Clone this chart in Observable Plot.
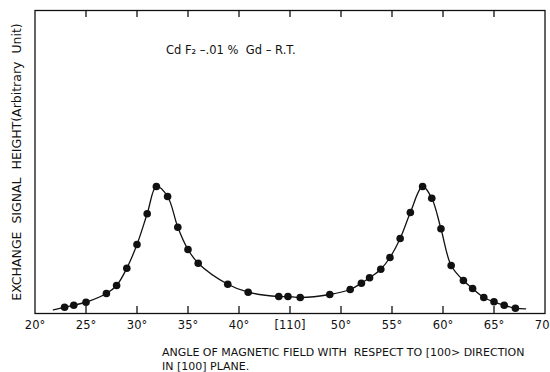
<!DOCTYPE html>
<html>
<head>
<meta charset="utf-8">
<script src="https://cdn.jsdelivr.net/npm/d3@7"></script>
<script src="https://cdn.jsdelivr.net/npm/@observablehq/plot@0.6"></script>
<style>
  html, body { margin: 0; padding: 0; background: #fff; }
  #chart svg { display: block; }
</style>
</head>
<body>
<div id="chart"></div>
<script>
// Exchange signal height vs. field angle, CdF2 – .01% Gd at room temperature.
const angle = [22.9, 23.8, 25, 27, 28, 29, 30, 31, 31.9, 33, 34, 35, 36, 38.9, 40.9,
  43.9, 44.8, 46, 48.9, 50.9, 52, 52.8, 53.9, 54.8, 55.8, 56.8, 58, 58.9, 59.8,
  60.8, 62, 62.9, 64, 65, 66, 67.1];
const height = [6.3, 8.3, 11.3, 20, 28, 45.3, 69, 99.7, 127, 117, 86.3, 64, 50.3, 29.3, 21.3,
  17, 17, 16, 19, 24, 30.3, 35.7, 44.3, 56, 75, 101, 127, 115.3, 84.7,
  48, 33, 25, 16, 11.7, 8.3, 5.3];

// where the drawn curve begins and ends beyond the outermost points
const curveStart = {angle: 21.8, height: 3.7};
const curveEnd = {angle: 68.1, height: 4.7};

const tickValues = [20, 25, 30, 35, 40, 45, 50, 55, 60, 65, 70];
const tickLabels = ["20°", "25°", "30°", "35°", "40°", "[110]", "50°", "55°", "60°", "65°", "70°"];
const innerTicks = [25, 30, 35, 40, 45, 50, 55, 60, 65];

const sampleLabel = "Cd F\u2082 \u2013.01 %  Gd \u2013 R.T.";
const yLabel = "EXCHANGE  SIGNAL  HEIGHT(Arbitrary  Unit)";
const xLabel = "ANGLE OF MAGNETIC FIELD WITH  RESPECT TO [100> DIRECTION\nIN [100] PLANE.";

const points = angle.map((a, i) => ({angle: a, height: height[i]}));
const curve = [curveStart, ...points, curveEnd];

const font = "'DejaVu Sans', sans-serif";
const W = 550, H = 372;
const mTop = 10, mBottom = 59;
const yMax = 303;            // arbitrary units; one unit per pixel of frame height
const tickLen = 7;           // inward tick length, in the same units

const chart = Plot.plot({
  width: W,
  height: H,
  marginLeft: 34.5,
  marginRight: 5.5,
  marginTop: mTop,
  marginBottom: mBottom,
  style: {fontFamily: font, fontSize: "11px", color: "#111", background: "#fff"},
  x: {domain: [20, 70]},
  y: {domain: [0, yMax], axis: null},
  marks: [
    Plot.frame({fill: "none", stroke: "#111", strokeWidth: 1.3}),
    // tick labels under the frame
    Plot.axisX(tickValues, {
      anchor: "bottom", tickSize: 0, tickPadding: 7, label: null,
      tickFormat: (d) => tickLabels[tickValues.indexOf(d)],
      fontSize: 11.5
    }),
    // short ticks pointing into the frame, bottom and top
    Plot.ruleX(innerTicks, {x: (d) => d, y1: 0, y2: tickLen, stroke: "#111", strokeWidth: 1.3}),
    Plot.ruleX(innerTicks, {x: (d) => d, y1: yMax - tickLen, y2: yMax, stroke: "#111", strokeWidth: 1.3}),
    Plot.line(curve, {x: "angle", y: "height", curve: "catmull-rom", stroke: "#111", strokeWidth: 1.3}),
    Plot.dot(points, {x: "angle", y: "height", r: 3.8, fill: "#111", stroke: "none"}),
    Plot.text([sampleLabel], {
      text: (d) => d, frameAnchor: "top-left", dx: 131, dy: 35,
      textAnchor: "start", fontSize: 11.5, fill: "#111"
    }),
    Plot.text([yLabel], {
      text: (d) => d, frameAnchor: "left", dx: -18.5, rotate: -90,
      textAnchor: "middle", fontSize: 12.5, fill: "#111"
    }),
    Plot.text([xLabel], {
      text: (d) => d, frameAnchor: "bottom-left", dx: 127, dy: 32,
      textAnchor: "start", lineAnchor: "top", lineHeight: 1.3, fontSize: 11, fill: "#111"
    })
  ]
});

document.getElementById("chart").appendChild(chart);
</script>
</body>
</html>
